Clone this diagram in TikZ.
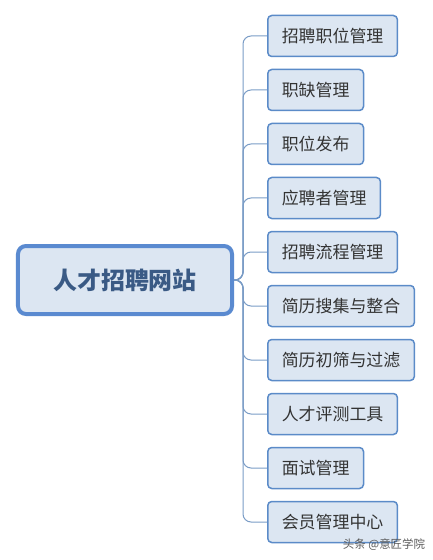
\documentclass[tikz,border=0pt]{standalone}
\usepackage{fontspec}
\setmainfont{Noto Sans CJK SC}
\usepackage{xcolor}

\definecolor{boxfill}{HTML}{DCE6F2}
\definecolor{boxline}{HTML}{5B8BC8}
\definecolor{rootline}{HTML}{5A8AD0}
\definecolor{roottext}{HTML}{3A5A85}
\definecolor{linkcol}{HTML}{7A9CC6}

\begin{document}
\begin{tikzpicture}[x=1bp,y=-1bp,
  rootbox/.style={draw=rootline,fill=boxfill,line width=4bp,rounded corners=8bp,
    minimum width=214bp,minimum height=68bp,text=roottext,
    font=\fontsize{24}{24}\selectfont\bfseries},
  itembox/.style={draw=boxline,fill=boxfill,line width=1.5bp,rounded corners=4bp,
    minimum height=41bp,inner xsep=14bp,anchor=west,text=black!80,
    font=\fontsize{17}{17}\selectfont},
  linkpath/.style={draw=linkcol,line width=1bp,rounded corners=8bp}]

\useasboundingbox (0,0) rectangle (432,560);

\node[rootbox] (root) at (125,280) {人才招聘网站};

% the ten items on the right
\foreach \t [count=\i] in {招聘职位管理,职缺管理,职位发布,应聘者管理,招聘流程管理,简历搜集与整合,简历初筛与过滤,人才评测工具,面试管理,会员管理中心}
   \node[itembox] (c\i) at (267,{36+54*(\i-1)}) {\t};

\foreach \i in {1,...,10}
   \draw[linkpath] (root.east) -- ++(9,0) |- (c\i.west);

\node[text=black!65,font=\fontsize{11.5}{11.5}\selectfont] (mark) at (384,545) {头条 @意匠学院};

\end{tikzpicture}
\end{document}
